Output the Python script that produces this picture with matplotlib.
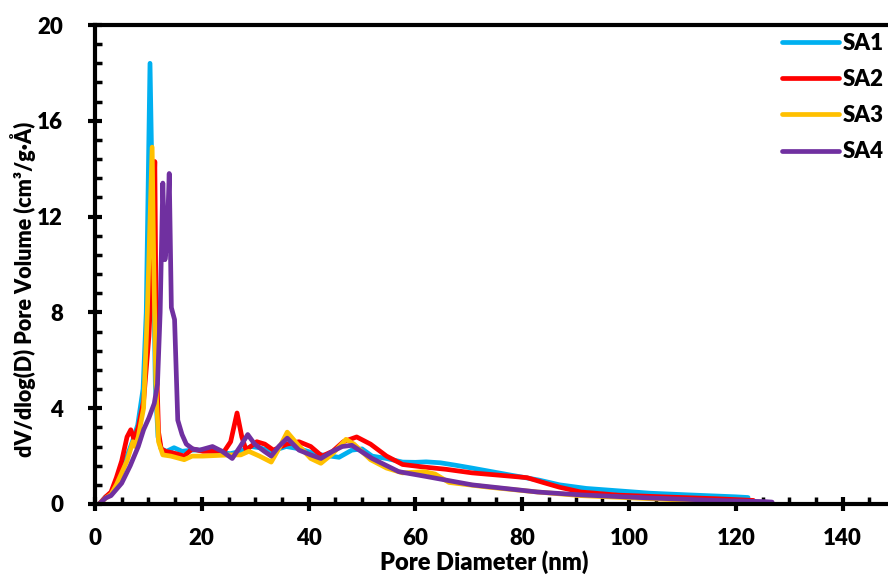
import matplotlib
matplotlib.use("Agg")
import matplotlib.pyplot as plt
from matplotlib.ticker import MultipleLocator

plt.rcParams['font.family'] = ['Lato', 'DejaVu Sans']
plt.rcParams['font.weight'] = 'heavy'

# ---- data (pore diameter nm, dV/dlog(D)) ----
sa1_x = [0.8, 2, 3, 4, 5, 6, 7, 8, 9, 9.6, 10.3, 10.8, 11.3, 11.8, 12.4, 13.4, 14.8, 16.3, 18.3, 20.2,
         22.3, 25.3, 27.3, 29.2, 30.8, 33.0, 35.8, 38.4, 40.5, 42.5, 45.7, 48.1, 50.0, 51.9, 54.6,
         57.6, 60.0, 62.0, 64.7, 67.5, 70.6, 78.0, 83.1, 87.0, 92.0, 98.0, 104.0, 111.2, 120.0, 122.3]
sa1_y = [0.0, 0.3, 0.4, 0.8, 1.3, 2.0, 2.6, 3.3, 4.8, 8.0, 18.4, 12.0, 5.0, 2.8, 2.3, 2.2, 2.35, 2.2, 2.25, 2.25,
         2.2, 2.1, 2.2, 2.4, 2.35, 2.2, 2.4, 2.3, 2.15, 2.05, 1.95, 2.25, 2.3, 2.0, 1.9,
         1.75, 1.74, 1.76, 1.72, 1.62, 1.5, 1.2, 1.0, 0.8, 0.65, 0.55, 0.45, 0.38, 0.3, 0.27]

sa2_x = [0.8, 2, 3, 4, 5, 6, 6.7, 7.3, 8.1, 9.1, 10.1, 10.7, 11.2, 11.5, 11.9, 12.4, 13.2, 15.2, 16.7, 18.2,
         20.2, 22.3, 24.2, 25.4, 26.6, 27.5, 28.3, 30.3, 31.8, 33.4, 35.9, 38.2, 40.4, 42.5, 44.5,
         46.5, 49.0, 51.6, 54.6, 57.6, 61.3, 65.7, 70.6, 75.8, 80.9, 83.9, 87.0, 91.0, 98.0, 106.2,
         116.3, 123.3]
sa2_y = [0.0, 0.3, 0.5, 1.1, 1.8, 2.8, 3.1, 2.7, 3.2, 4.3, 7.0, 10.0, 14.3, 6.0, 3.0, 2.3, 2.2, 2.1, 2.0, 2.3,
         2.2, 2.2, 2.2, 2.6, 3.8, 2.8, 2.25, 2.6, 2.5, 2.25, 2.5, 2.6, 2.4, 2.0, 2.2,
         2.6, 2.8, 2.5, 2.0, 1.65, 1.55, 1.45, 1.3, 1.2, 1.1, 0.9, 0.7, 0.5, 0.37, 0.3,
         0.22, 0.15]

sa3_x = [0.8, 2, 3, 4, 5, 6, 7.1, 7.5, 8.1, 9.1, 9.8, 10.7, 11.0, 11.4, 11.9, 12.7, 14.2, 16.7, 18.2, 20.2,
         25.3, 27.3, 28.8, 30.8, 33.0, 34.4, 36.0, 37.9, 40.4, 42.3, 44.5, 47.0, 48.5, 51.6, 54.6,
         57.6, 61.7, 63.7, 66.3, 73.8, 82.9, 91.0, 101.1, 111.2, 121.3, 126.0]
sa3_y = [0.0, 0.25, 0.4, 0.8, 1.3, 1.8, 2.6, 2.4, 2.8, 4.0, 8.0, 14.9, 10.0, 5.0, 2.6, 2.05, 2.0, 1.85, 2.0, 2.0,
         2.05, 2.05, 2.2, 2.0, 1.75, 2.3, 3.0, 2.5, 1.9, 1.7, 2.1, 2.7, 2.5, 1.85, 1.5,
         1.3, 1.35, 1.25, 0.9, 0.7, 0.5, 0.35, 0.25, 0.15, 0.08, 0.05]

sa4_x = [0.8, 2, 3, 5, 6.6, 8.1, 9.1, 10.1, 11.1, 11.7, 12.2, 12.7, 13.1, 13.5, 13.9, 14.3, 14.9, 15.5, 16.3,
         17.1, 18.3, 19.6, 22.0, 23.8, 25.7, 27.2, 28.6, 29.9, 31.7, 33.0, 34.4, 36.0, 38.2, 40.4,
         42.3, 44.5, 46.3, 48.1, 51.9, 56.9, 62.0, 70.6, 82.9, 91.0, 104.1, 116.3, 125.4, 126.8]
sa4_y = [0.0, 0.25, 0.35, 0.87, 1.6, 2.4, 3.1, 3.6, 4.2, 5.0, 8.0, 13.4, 10.2, 11.0, 13.8, 8.2, 7.7, 3.5, 2.9,
         2.5, 2.3, 2.25, 2.4, 2.2, 1.9, 2.4, 2.9, 2.5, 2.2, 2.0, 2.4, 2.75, 2.25, 2.05,
         1.9, 2.2, 2.4, 2.45, 1.9, 1.35, 1.15, 0.8, 0.5, 0.38, 0.25, 0.15, 0.1, 0.08]

labels = ['SA1', 'SA2', 'SA3', 'SA4']
colors = ['#00B0F0', '#FF0000', '#FFC000', '#7030A0']
x_ticks = [0, 20, 40, 60, 80, 100, 120, 140]
y_ticks = [0, 4, 8, 12, 16, 20]

fig = plt.figure(figsize=(8.88, 5.76), dpi=100)
ax = fig.add_axes([95/888, 72/576, 801/888, 479/576])

series = [(sa1_x, sa1_y), (sa2_x, sa2_y), (sa3_x, sa3_y), (sa4_x, sa4_y)]
lines = []
for (xs, ys), lab, c in zip(series, labels, colors):
    ln, = ax.plot(xs, ys, color=c, lw=3.4, label=lab, solid_joinstyle='round', solid_capstyle='round')
    lines.append(ln)

ax.set_xlim(0, 150)
ax.set_ylim(0, 20)
ax.set_xticks(x_ticks)
ax.set_yticks(y_ticks)
ax.xaxis.set_minor_locator(MultipleLocator(5))
ax.yaxis.set_minor_locator(MultipleLocator(0.8))

for s in ['left', 'bottom', 'top']:
    ax.spines[s].set_linewidth(3)
ax.spines['right'].set_visible(False)
ax.tick_params(which='major', direction='inout', length=10, width=3, labelsize=16)
ax.tick_params(axis='x', which='major', pad=12)
ax.tick_params(axis='y', which='major', pad=18)
ax.tick_params(which='minor', direction='in', length=5, width=2.5)
for t in ax.get_xticklabels() + ax.get_yticklabels():
    t.set_fontweight('heavy')

ax.set_xlabel('Pore Diameter (nm)', fontsize=17, fontweight='heavy')
ax.set_ylabel('dV/dlog(D) Pore Volume (cm³/g·Å)', fontsize=15.5, fontweight='heavy')
ax.xaxis.set_label_coords((484-95)/801, -0.097)
ax.yaxis.set_label_coords(-(95-36)/801, 0.449)

leg = fig.legend(handles=lines, labels=labels, loc='upper left',
                 bbox_to_anchor=(782/888, (576-33)/576), frameon=False,
                 prop={'size': 16, 'weight': 'heavy'}, handlelength=2.55,
                 handletextpad=0.2, labelspacing=0.68, borderpad=0, borderaxespad=0)
for h in leg.get_lines():
    h.set_linewidth(3.4)

fig.savefig('out.png', dpi=100)
